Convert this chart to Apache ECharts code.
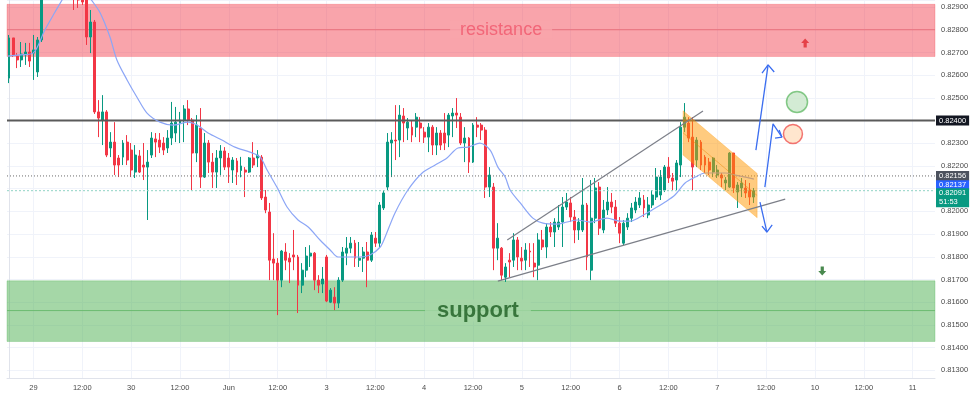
<!DOCTYPE html>
<html>
<head>
<meta charset="utf-8">
<script src="https://cdn.jsdelivr.net/npm/echarts@6/dist/echarts.min.js"></script>
<style>
html, body { margin: 0; padding: 0; background: #fff; }
#main { width: 974px; height: 397px; }
</style>
</head>
<body>
<div id="main"></div>
<script>
// hourly candles
var opens = [
    0.82587, 0.82764, 0.82684, 0.82667, 0.82689, 0.82702, 0.82697, 0.82614, 0.82755, 0.82997,
    0.83063, 0.83028, 0.83085, 0.83054, 0.83019, 0.82984, 0.82975, 0.82953, 0.82944, 0.82931,
    0.82768, 0.82834, 0.82438, 0.82402, 0.82438, 0.82279, 0.82305, 0.82235, 0.82239, 0.82305,
    0.82270, 0.82173, 0.82244, 0.82204, 0.82195, 0.82248, 0.82319, 0.82314, 0.82301, 0.82279,
    0.82323, 0.82345, 0.82389, 0.82402, 0.82451, 0.82402, 0.82257, 0.82367, 0.82151, 0.82301,
    0.82217, 0.82173, 0.82235, 0.82266, 0.82235, 0.82182, 0.82222, 0.82180,
    0.82182, 0.82173, 0.82235, 0.82235, 0.82239, 0.82063, 0.81997, 0.81790, 0.81772, 0.81697,
    0.81821, 0.81794, 0.81808, 0.81799, 0.81675, 0.81741, 0.81803, 0.81816, 0.81697, 0.81680,
    0.81799, 0.81600, 0.81622, 0.81596, 0.81697, 0.81816, 0.81838, 0.81860, 0.81785, 0.81794,
    0.81821, 0.81785, 0.81882, 0.81860, 0.82015, 0.82107, 0.82301, 0.82314, 0.82314, 0.82420,
    0.82367, 0.82371, 0.82371, 0.82389, 0.82349, 0.82327, 0.82371, 0.82292, 0.82345, 0.82345,
    0.82336, 0.82420, 0.82433, 0.82415, 0.82301, 0.82323, 0.82217, 0.82380, 0.82380, 0.82358,
    0.82107, 0.82107, 0.81838, 0.81838, 0.81710, 0.81785, 0.81785, 0.81874, 0.81794, 0.81785,
    0.81825, 0.81772, 0.81763, 0.81874, 0.81843, 0.81931, 0.81909, 0.81931, 0.81953, 0.82019,
    0.82037, 0.81975, 0.81918, 0.81918, 0.82028, 0.81741, 0.81970, 0.82107, 0.81918, 0.82006,
    0.82041, 0.82019, 0.81948, 0.81860, 0.81931, 0.81970, 0.82006, 0.82028, 0.82050, 0.81984,
    0.82028, 0.82063, 0.82072, 0.82094, 0.82195, 0.82147, 0.82138, 0.82204, 0.82371, 0.82389,
    0.82327, 0.82226, 0.82305, 0.82239, 0.82217, 0.82173, 0.82160, 0.82160, 0.82125, 0.82107,
    0.82257, 0.82085, 0.82103, 0.82103, 0.82094, 0.82063
];
var closes = [
    0.82764, 0.82689, 0.82667, 0.82693, 0.82702, 0.82662, 0.82711, 0.82755, 0.82997, 0.83063,
    0.83028, 0.83085, 0.83054, 0.83019, 0.82984, 0.82966, 0.82940, 0.82931, 0.82922, 0.82768,
    0.82834, 0.82438, 0.82411, 0.82438, 0.82248, 0.82305, 0.82204, 0.82204, 0.82301, 0.82226,
    0.82182, 0.82248, 0.82173, 0.82195, 0.82217, 0.82323, 0.82305, 0.82283, 0.82270, 0.82323,
    0.82389, 0.82393, 0.82402, 0.82451, 0.82402, 0.82257, 0.82380, 0.82151, 0.82301, 0.82217,
    0.82173, 0.82235, 0.82266, 0.82195, 0.82195, 0.82226, 0.82173, 0.82200,
    0.82173, 0.82235, 0.82204, 0.82248, 0.82059, 0.82006, 0.81785, 0.81772, 0.81697, 0.81825,
    0.81785, 0.81777, 0.81799, 0.81675, 0.81741, 0.81803, 0.81816, 0.81697, 0.81675, 0.81702,
    0.81605, 0.81653, 0.81596, 0.81697, 0.81821, 0.81838, 0.81860, 0.81794, 0.81794, 0.81821,
    0.81785, 0.81896, 0.81860, 0.82028, 0.82081, 0.82305, 0.82314, 0.82310, 0.82424, 0.82389,
    0.82393, 0.82336, 0.82415, 0.82367, 0.82327, 0.82371, 0.82292, 0.82345, 0.82292, 0.82301,
    0.82424, 0.82433, 0.82424, 0.82301, 0.82323, 0.82217, 0.82380, 0.82371, 0.82358, 0.82107,
    0.82160, 0.81838, 0.81882, 0.81719, 0.81755, 0.81777, 0.81874, 0.81799, 0.81781, 0.81830,
    0.81821, 0.81755, 0.81874, 0.81843, 0.81931, 0.81909, 0.81953, 0.81953, 0.82019, 0.82041,
    0.81975, 0.81918, 0.81953, 0.82028, 0.81799, 0.81970, 0.82103, 0.81926, 0.82006, 0.82041,
    0.82019, 0.81948, 0.81904, 0.81948, 0.81970, 0.82015, 0.82041, 0.82059, 0.82015, 0.82028,
    0.82072, 0.82151, 0.82151, 0.82195, 0.82147, 0.82133, 0.82213, 0.82371, 0.82415, 0.82323,
    0.82195, 0.82314, 0.82204, 0.82204, 0.82182, 0.82235, 0.82182, 0.82147, 0.82138, 0.82257,
    0.82103, 0.82116, 0.82125, 0.82081, 0.82063, 0.82091
];
var lows = [
    0.82565, 0.82680, 0.82631, 0.82636, 0.82645, 0.82636, 0.82579, 0.82592, 0.82746, 0.82966,
    0.82984, 0.82997, 0.83010, 0.82975, 0.82953, 0.82944, 0.82887, 0.82896, 0.82909, 0.82733,
    0.82697, 0.82429, 0.82327, 0.82292, 0.82239, 0.82239, 0.82160, 0.82151, 0.82204, 0.82204,
    0.82151, 0.82147, 0.82169, 0.82138, 0.81962, 0.82235, 0.82239, 0.82257, 0.82248, 0.82257,
    0.82292, 0.82305, 0.82301, 0.82305, 0.82380, 0.82094, 0.82217, 0.82103, 0.82147, 0.82169,
    0.82103, 0.82103, 0.82160, 0.82182, 0.82125, 0.82125, 0.82116, 0.82150,
    0.82063, 0.82169, 0.82191, 0.82195, 0.82050, 0.81992, 0.81697, 0.81697, 0.81543, 0.81666,
    0.81741, 0.81684, 0.81741, 0.81552, 0.81640, 0.81710, 0.81755, 0.81653, 0.81640, 0.81640,
    0.81600, 0.81596, 0.81565, 0.81574, 0.81689, 0.81763, 0.81816, 0.81755, 0.81755, 0.81733,
    0.81666, 0.81777, 0.81843, 0.81843, 0.82006, 0.82094, 0.82151, 0.82226, 0.82239, 0.82305,
    0.82314, 0.82305, 0.82327, 0.82305, 0.82301, 0.82261, 0.82248, 0.82248, 0.82270, 0.82270,
    0.82283, 0.82327, 0.82367, 0.82292, 0.82217, 0.82169, 0.82213, 0.82327, 0.82314, 0.82059,
    0.82063, 0.81741, 0.81785, 0.81697, 0.81689, 0.81710, 0.81755, 0.81741, 0.81741, 0.81741,
    0.81755, 0.81710, 0.81697, 0.81830, 0.81794, 0.81887, 0.81843, 0.81918, 0.81843, 0.82006,
    0.81953, 0.81860, 0.81874, 0.81909, 0.81741, 0.81697, 0.81948, 0.81896, 0.81904, 0.81984,
    0.81992, 0.81931, 0.81860, 0.81851, 0.81918, 0.81953, 0.81992, 0.82015, 0.81975, 0.81970,
    0.82015, 0.82050, 0.82050, 0.82085, 0.82125, 0.82094, 0.82094, 0.82151, 0.82349, 0.82305,
    0.82094, 0.82195, 0.82182, 0.82169, 0.82160, 0.82151, 0.82147, 0.82107, 0.82094, 0.82103,
    0.82081, 0.82015, 0.82063, 0.82059, 0.82028, 0.82037
];
var highs = [
    0.82777, 0.82764, 0.82697, 0.82746, 0.82742, 0.82742, 0.82777, 0.82768, 0.83041, 0.83107,
    0.83129, 0.83151, 0.83143, 0.83098, 0.83063, 0.83041, 0.83019, 0.82997, 0.82975, 0.82953,
    0.82887, 0.82843, 0.82490, 0.82512, 0.82446, 0.82349, 0.82393, 0.82248, 0.82314, 0.82336,
    0.82301, 0.82292, 0.82270, 0.82301, 0.82270, 0.82349, 0.82345, 0.82345, 0.82327, 0.82358,
    0.82482, 0.82460, 0.82438, 0.82468, 0.82490, 0.82411, 0.82424, 0.82455, 0.82345, 0.82314,
    0.82257, 0.82270, 0.82292, 0.82283, 0.82257, 0.82239, 0.82235, 0.82240,
    0.82195, 0.82239, 0.82305, 0.82270, 0.82248, 0.82094, 0.82037, 0.81904, 0.81794, 0.81830,
    0.81860, 0.81816, 0.81918, 0.81808, 0.81772, 0.81843, 0.81851, 0.81821, 0.81719, 0.81755,
    0.81808, 0.81662, 0.81666, 0.81710, 0.81843, 0.81887, 0.81887, 0.81874, 0.81865, 0.81843,
    0.81865, 0.81909, 0.81909, 0.82041, 0.82094, 0.82345, 0.82349, 0.82468, 0.82468, 0.82455,
    0.82411, 0.82402, 0.82433, 0.82415, 0.82371, 0.82389, 0.82380, 0.82371, 0.82358, 0.82433,
    0.82433, 0.82455, 0.82499, 0.82433, 0.82371, 0.82327, 0.82389, 0.82415, 0.82389, 0.82371,
    0.82195, 0.82125, 0.81948, 0.81843, 0.81772, 0.81816, 0.81904, 0.81887, 0.81843, 0.81860,
    0.81860, 0.81860, 0.81904, 0.81918, 0.81948, 0.81953, 0.81970, 0.82028, 0.82063, 0.82081,
    0.82063, 0.82006, 0.81970, 0.82147, 0.82037, 0.82138, 0.82147, 0.82129, 0.82050, 0.82107,
    0.82081, 0.82050, 0.81975, 0.81962, 0.81992, 0.82037, 0.82063, 0.82085, 0.82072, 0.82063,
    0.82094, 0.82191, 0.82182, 0.82204, 0.82239, 0.82169, 0.82226, 0.82393, 0.82477, 0.82415,
    0.82415, 0.82327, 0.82314, 0.82248, 0.82235, 0.82239, 0.82204, 0.82169, 0.82151, 0.82261,
    0.82257, 0.82129, 0.82147, 0.82138, 0.82125, 0.82103
];

// moving average, read at points along the line (x = bar index)
var maIdx = [-0.25, 2.7, 5.9, 8.8, 11.3, 13.3, 16.2, 19.9, 22.4, 24.8, 26.5, 29.0, 31.4, 33.9, 37.1, 40.3,
    44.0, 46.2, 48.9, 52.3, 55.5, 59.2, 61.7, 63.4, 65.8, 68.3, 71.0, 73.5, 76.4, 78.9, 80.8, 83.0,
    86.2, 88.7, 91.2, 92.4, 94.8, 98.0, 101.5, 104.7, 107.6, 110.3, 112.8, 115.7, 118.2, 120.1, 121.9,
    123.1, 125.6, 128.7, 131.2, 134.6, 137.1, 139.6, 142.8, 146.9, 150.1, 152.6, 154.5, 158.0, 161.2,
    163.6, 166.1, 168.6, 171.0, 173.5, 176.0, 178.4, 180.9, 183.0];
var maValue = [0.82684, 0.82689, 0.82697, 0.82799, 0.82878, 0.82940, 0.83041, 0.82940, 0.82874, 0.82768,
    0.82667, 0.82579, 0.82504, 0.82433, 0.82393, 0.82380, 0.82393, 0.82380, 0.82345, 0.82314, 0.82283,
    0.82261, 0.82239, 0.82182, 0.82107, 0.82019, 0.81962, 0.81931, 0.81874, 0.81830, 0.81799, 0.81799,
    0.81799, 0.81808, 0.81843, 0.81887, 0.81992, 0.82094, 0.82169, 0.82204, 0.82235, 0.82279, 0.82283,
    0.82301, 0.82270, 0.82195, 0.82151, 0.82094, 0.82037, 0.81970, 0.81948, 0.81944, 0.81953, 0.81962,
    0.81953, 0.81970, 0.81957, 0.81957, 0.81970, 0.82006, 0.82041, 0.82072, 0.82125, 0.82151, 0.82169,
    0.82169, 0.82169, 0.82160, 0.82151, 0.82142];

// time axis
var barCount = 228;
var xTickLabels = ['29', '12:00', '30', '12:00', 'Jun', '12:00', '3', '12:00', '4', '12:00',
    '5', '12:00', '6', '12:00', '7', '12:00', '10', '12:00', '11'];
var firstTickBar = 6, barsPerTick = 12;

// zones and levels
var resistance = { top: 0.82912, mid: 0.82800, bottom: 0.82682 };
var support = { top: 0.81694, mid: 0.81563, bottom: 0.81427 };
var keyLevel = 0.82400;
var prevClose = 0.82156;
var maLast = 0.82137;
var lastPrice = 0.82091;
var countdown = '51:53';

// drawings (bar index, price)
var wedgeUpper = [[122.4, 0.81874], [170.5, 0.82442]];
var wedgeLower = [[120.1, 0.81693], [190.7, 0.82054]];
var channel = [[165.6, 0.82443], [183.8, 0.82167], [183.8, 0.81972], [165.6, 0.82248]];
var channelMid = [[165.6, 0.82346], [183.8, 0.82070]];
var arrowUp = [[183.5, 0.82270], [186.5, 0.82645]];
var arrowUpHead = [[185.0, 0.82609], [186.5, 0.82645], [188.0, 0.82614]];
var arrowRetest = [[185.7, 0.82107], [187.7, 0.82385], [189.9, 0.82327]];
var arrowRetestHead = [[188.2, 0.82323], [189.9, 0.82327], [189.2, 0.82358]];
var arrowDown = [[184.5, 0.82041], [186.2, 0.81909]];
var arrowDownHead = [[185.0, 0.81935], [186.2, 0.81909], [187.5, 0.81940]];
var greenCircle = [193.6, 0.82482];
var redCircle = [192.6, 0.82341];
var redMark = [195.6, 0.82742];
var greenMark = [199.8, 0.81737];
var resistanceText = [120.9, 0.82800];
var supportText = [115.2, 0.81563];

var chart = echarts.init(document.getElementById('main'));

var categories = [];
for (var i = 0; i < barCount; i++) categories.push(String(i));
var tickAt = {};
xTickLabels.forEach(function (t, k) { tickAt[firstTickBar + k * barsPerTick] = t; });
function isTick(index) { return tickAt[index] !== undefined; }

var candles = opens.map(function (o, i) { return [o, closes[i], lows[i], highs[i]]; });

var font = 'Liberation Sans';
var upColor = '#089981', downColor = '#f23645';

function drawLine(name, pts, color, width) {
    return {
        name: name, type: 'line', xAxisIndex: 1, data: pts, showSymbol: false, symbol: 'none',
        silent: true, z: 6, lineStyle: { color: color, width: width }
    };
}

// horizontal level across the whole pane, with an optional price tag on the right scale
function level(name, price, lineStyle, tagBg, tagText, z, tagShift) {
    var s = {
        name: name, type: 'line', xAxisIndex: 1, silent: true, z: z,
        data: [[-0.5, price], [barCount - 0.5, price]],
        showSymbol: false, symbol: 'none', lineStyle: lineStyle
    };
    if (tagBg) {
        s.endLabel = {
            show: true, distance: 1, formatter: tagText, color: '#fff', backgroundColor: tagBg,
            padding: [1, 3, 0, 3], fontSize: 7.5, fontFamily: font, lineHeight: 9,
            offset: [0, tagShift || 0]
        };
    }
    return s;
}

var arrowPath = 'path://M5,0 L10,5 L7,5 L7,10 L3,10 L3,5 L0,5 Z';

var option = {
    animation: false,
    backgroundColor: '#fff',
    grid: { left: 7, right: 39, top: 0, bottom: 19 },
    xAxis: [
        {
            type: 'category', data: categories, boundaryGap: true,
            axisLine: { show: true, lineStyle: { color: '#e0e3eb' } },
            axisTick: { show: false },
            axisLabel: {
                interval: function (index) { return isTick(index); },
                formatter: function (v) { return tickAt[+v] || ''; },
                fontSize: 7.5, color: '#4a4a4a', fontFamily: font, margin: 6
            },
            splitLine: {
                show: true, alignWithLabel: true,
                interval: function (index) { return isTick(index); },
                lineStyle: { color: '#f0f3fa', width: 1 }
            }
        },
        { type: 'value', min: -0.5, max: barCount - 0.5, show: false }
    ],
    yAxis: {
        type: 'value', position: 'right', scale: true,
        min: 0.81266, max: 0.82931, minInterval: 0.001, maxInterval: 0.001,
        axisLine: { show: true, lineStyle: { color: '#e0e3eb' } },
        axisTick: { show: false },
        axisLabel: {
            fontSize: 7.5, color: '#4a4a4a', fontFamily: font, margin: 6,
            showMinLabel: false, showMaxLabel: false,
            formatter: function (v) { return v.toFixed(5); }
        },
        splitLine: { lineStyle: { color: '#f0f3fa' } }
    },
    series: [
        {
            name: 'zones', type: 'line', xAxisIndex: 1, data: [], z: 1, silent: true,
            markArea: {
                silent: true,
                data: [
                    [{ yAxis: resistance.top, itemStyle: { color: 'rgba(242,54,69,0.45)', borderColor: 'rgba(242,54,69,0.25)', borderWidth: 1 } },
                     { yAxis: resistance.bottom }],
                    [{ yAxis: support.top, itemStyle: { color: 'rgba(76,175,80,0.5)', borderColor: 'rgba(76,175,80,0.3)', borderWidth: 1 } },
                     { yAxis: support.bottom }]
                ]
            }
        },
        level('resistance mid', resistance.mid, { color: '#e8707c', width: 1 }, null, null, 2),
        level('support mid', support.mid, { color: '#6cbb70', width: 1 }, null, null, 2),
        {
            name: 'EURUSD', type: 'candlestick', xAxisIndex: 0, data: candles, z: 3,
            barWidth: 2.4, clip: true,
            itemStyle: {
                color: upColor, color0: downColor,
                borderColor: upColor, borderColor0: downColor, borderWidth: 1
            }
        },
        level('key level', keyLevel, { color: '#5a5a5a', width: 2 }, '#131722', keyLevel.toFixed(5), 4),
        level('prev close', prevClose, { color: '#6b6b6b', width: 1, type: [1, 2] }, '#4c525e', prevClose.toFixed(5), 4, 0),
        level('ma last', maLast, { color: 'rgba(0,0,0,0)', width: 0 }, '#2962ff', maLast.toFixed(5), 4, 5),
        level('last price', lastPrice, { color: '#8fd3c4', width: 1, type: [2, 2] }, '#089981',
            lastPrice.toFixed(5) + '\n' + countdown, 4, 7),
        {
            name: 'MA', type: 'line', xAxisIndex: 1, z: 4, silent: true,
            data: maIdx.map(function (x, i) { return [x, maValue[i]]; }),
            showSymbol: false, symbol: 'none', smooth: 0.3,
            lineStyle: { color: '#8ca6f6', width: 1.2 }
        },
        drawLine('wedge upper', wedgeUpper, '#7c7f88', 1.2),
        drawLine('wedge lower', wedgeLower, '#7c7f88', 1.2),
        {
            name: 'channel', type: 'custom', xAxisIndex: 1, z: 5, silent: true,
            data: [[channel[0][0], channel[0][1]]],
            renderItem: function (params, api) {
                return {
                    type: 'polygon',
                    shape: { points: channel.map(function (p) { return api.coord(p); }) },
                    style: { fill: 'rgba(255,152,0,0.5)', stroke: 'rgba(255,152,0,0.6)', lineWidth: 0.5 }
                };
            }
        },
        drawLine('channel mid', channelMid, 'rgba(230,130,0,0.45)', 1),
        drawLine('arrow up', arrowUp, '#3a6df0', 1.3),
        drawLine('arrow up head', arrowUpHead, '#3a6df0', 1.3),
        drawLine('arrow retest', arrowRetest, '#3a6df0', 1.3),
        drawLine('arrow retest head', arrowRetestHead, '#3a6df0', 1.3),
        drawLine('arrow down', arrowDown, '#3a6df0', 1.3),
        drawLine('arrow down head', arrowDownHead, '#3a6df0', 1.3),
        {
            name: 'targets', type: 'scatter', xAxisIndex: 1, z: 7, silent: true,
            data: [
                { value: greenCircle, symbolSize: 21, itemStyle: { color: '#c8e6c9', borderColor: '#66bb6a', borderWidth: 1.5 } },
                { value: redCircle, symbolSize: 19, itemStyle: { color: '#ffe0c2', borderColor: '#ef5350', borderWidth: 1.5 } }
            ]
        },
        {
            name: 'marks', type: 'scatter', xAxisIndex: 1, z: 7, silent: true,
            symbol: arrowPath,
            data: [
                { value: redMark, symbolSize: [8, 9], itemStyle: { color: '#e0282f' } },
                { value: greenMark, symbolSize: [8, 9], symbolRotate: 180, itemStyle: { color: '#1b6b22' } }
            ]
        },
        {
            name: 'labels', type: 'scatter', xAxisIndex: 1, z: 8, silent: true,
            symbolSize: 1, itemStyle: { color: 'transparent' },
            data: [
                { value: resistanceText, label: { show: true, position: 'inside', formatter: 'resistance',
                    fontSize: 18, fontFamily: font, color: '#f0566b', backgroundColor: '#f9a5ab', padding: [0, 10] } },
                { value: supportText, label: { show: true, position: 'inside', formatter: 'support',
                    fontSize: 22, fontFamily: font, fontWeight: 'bold', color: '#1d5e22', backgroundColor: '#a6d7a8', padding: [0, 12] } }
            ]
        }
    ]
};

chart.setOption(option);

window.addEventListener('resize', function () {
    chart.resize();
});
</script>
</body>
</html>
